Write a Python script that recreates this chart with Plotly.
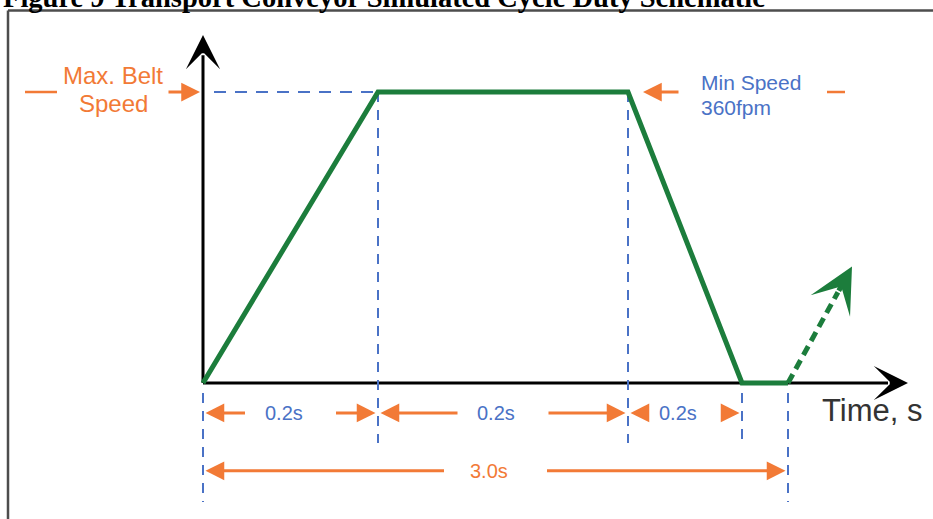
import plotly.graph_objects as go

# ---------------- data (schematic) ----------------
# breakpoints of the belt speed profile (schematic time units, fraction of max speed)
profile_t = [0.0, 1.75, 4.25, 5.39, 5.85]
profile_speed = [0.0, 1.0, 1.0, 0.0, 0.0]
# start of next cycle (dashed arrow end point)
next_cycle_t = 6.49
next_cycle_speed = 0.40

segment_start_idx = [0, 1, 2]
segment_end_idx = [1, 2, 3]
segment_labels = ["0.2s", "0.2s", "0.2s"]
total_label = "3.0s"
time_axis_label = "Time, s"
max_speed_label = ["Max. Belt", "Speed"]
min_speed_label = ["Min Speed", "360fpm"]
title_text = "Figure 9 Transport Conveyor Simulated Cycle Duty Schematic"

# ---------------- style ----------------
GREEN = "#1c7d3c"
BLUE = "#4a72c6"
ORANGE = "#f27a36"
BLACK = "#000000"
W, H = 933, 519
X_RANGE = [-2.03, 7.30]
Y_RANGE = [-0.4674, 1.3162]

fig = go.Figure()
shapes = []
ann = []

def arrow(hx, hy, tx, ty, color, width, head, size):
    ann.append(dict(x=hx, y=hy, ax=tx, ay=ty, xref="x", yref="y", axref="x", ayref="y",
                    showarrow=True, arrowhead=head, arrowwidth=width, arrowsize=size,
                    arrowcolor=color, text="", standoff=0, startstandoff=0))

def text(x, y, s, color, size, xanchor="center", family="Liberation Sans, Arial, sans-serif"):
    ann.append(dict(x=x, y=y, xref="x", yref="y", text=s, showarrow=False,
                    xanchor=xanchor, yanchor="middle",
                    font=dict(family=family, size=size, color=color)))

def vline(x, y0, y1):
    shapes.append(dict(type="line", x0=x, x1=x, y0=y0, y1=y1, xref="x", yref="y",
                       line=dict(color=BLUE, width=2, dash="10px,8px"), layer="below"))

# frame
shapes.append(dict(type="line", xref="paper", yref="paper", x0=8/W, x1=1.0, y0=1-10.5/H, y1=1-10.5/H,
                   line=dict(color="#4d4d4d", width=2.5)))
shapes.append(dict(type="line", xref="paper", yref="paper", x0=8/W, x1=8/W, y0=0, y1=1-10.5/H,
                   line=dict(color="#4d4d4d", width=2.5)))

# axes lines
x_axis_end = 7.05
y_axis_end = 1.196
shapes.append(dict(type="line", x0=0, x1=x_axis_end - 0.2, y0=0, y1=0, xref="x", yref="y",
                   line=dict(color=BLACK, width=3), layer="below"))
shapes.append(dict(type="line", x0=0, x1=0, y0=0, y1=y_axis_end - 0.07, xref="x", yref="y",
                   line=dict(color=BLACK, width=3), layer="below"))
arrow(x_axis_end, 0, x_axis_end - 0.15, 0, BLACK, 3, 3, 1.9)
arrow(0, y_axis_end, 0, y_axis_end - 0.05, BLACK, 3, 3, 1.9)

# max speed dashed guide
vmax = max(profile_speed)
shapes.append(dict(type="line", x0=0.11, x1=profile_t[1], y0=vmax, y1=vmax, xref="x", yref="y",
                   line=dict(color=BLUE, width=2, dash="12px,9px"), layer="below"))

# vertical guides
row1_y = -0.103
row2_y = -0.302
top_small = -0.034
bot_short = -0.206
bot_long = -0.409
vline(profile_t[0], top_small, bot_long)
vline(profile_t[1], vmax, bot_short)
vline(profile_t[2], vmax, bot_short)
vline(profile_t[3], top_small, bot_short)
vline(profile_t[4], top_small, bot_long)

# speed profile
fig.add_trace(go.Scatter(x=profile_t, y=profile_speed, mode="lines",
                         line=dict(color=GREEN, width=5), hoverinfo="skip"))
# next cycle dashed arrow
frac = 0.78
tail_t = profile_t[-1] + frac * (next_cycle_t - profile_t[-1])
tail_s = profile_speed[-1] + frac * (next_cycle_speed - profile_speed[-1])
fig.add_trace(go.Scatter(x=[profile_t[-1], tail_t], y=[profile_speed[-1], tail_s], mode="lines",
                         line=dict(color=GREEN, width=5, dash="10px,6px"), hoverinfo="skip"))
arrow(next_cycle_t, next_cycle_speed, tail_t, tail_s, GREEN, 5, 3, 1.5)

# dimension arrows
inset = 0.025
gap = 0.44
shift = -0.07
for i0, i1, lab in zip(segment_start_idx, segment_end_idx, segment_labels):
    a, b = profile_t[i0], profile_t[i1]
    mid = (a + b) / 2
    arrow(a + inset, row1_y, mid - gap, row1_y, ORANGE, 3, 2, 1.25)
    arrow(b - inset, row1_y, mid + gap, row1_y, ORANGE, 3, 2, 1.25)
    text(mid + shift, row1_y, lab, BLUE, 20)

a, b = profile_t[0], profile_t[-1]
mid = (a + b) / 2
arrow(a + inset, row2_y, mid - 0.5, row2_y, ORANGE, 3, 2, 1.25)
arrow(b - inset, row2_y, mid + 0.5, row2_y, ORANGE, 3, 2, 1.25)
text(mid + shift, row2_y, total_label, ORANGE, 20)

# max / min speed markers
shapes.append(dict(type="line", x0=-1.78, x1=-1.46, y0=vmax, y1=vmax, xref="x", yref="y",
                   line=dict(color=ORANGE, width=2.5)))
shapes.append(dict(type="line", x0=6.24, x1=6.42, y0=vmax, y1=vmax, xref="x", yref="y",
                   line=dict(color=ORANGE, width=2.5)))
arrow(-0.03, vmax, -0.36, vmax, ORANGE, 3, 2, 1.25)
arrow(4.40, vmax, 4.77, vmax, ORANGE, 3, 2, 1.25)
text(-0.90, 1.058, max_speed_label[0], ORANGE, 24)
text(-0.90, 0.962, max_speed_label[1], ORANGE, 24)
text(4.96, 1.031, min_speed_label[0], BLUE, 21, xanchor="left")
text(4.96, 0.948, min_speed_label[1], BLUE, 21, xanchor="left")

# axis label
text(6.17, -0.093, time_axis_label, "#333333", 31, xanchor="left")

# title (cropped at top like reference)
ann.append(dict(x=1/W, y=1 + 2.5/H, xref="paper", yref="paper", text="<b>" + title_text + "</b>",
                showarrow=False, xanchor="left", yanchor="middle",
                font=dict(family="Liberation Serif, Times New Roman, serif", size=28.5, color="#000000")))

fig.update_layout(
    width=W, height=H, margin=dict(l=0, r=0, t=0, b=0),
    paper_bgcolor="white", plot_bgcolor="white",
    xaxis=dict(range=X_RANGE, visible=False, fixedrange=True),
    yaxis=dict(range=Y_RANGE, visible=False, fixedrange=True),
    showlegend=False, shapes=shapes, annotations=ann,
)
fig.write_html("out.html", config={"displayModeBar": False},
               post_script="document.body.style.margin='0';document.body.style.overflow='hidden';")
